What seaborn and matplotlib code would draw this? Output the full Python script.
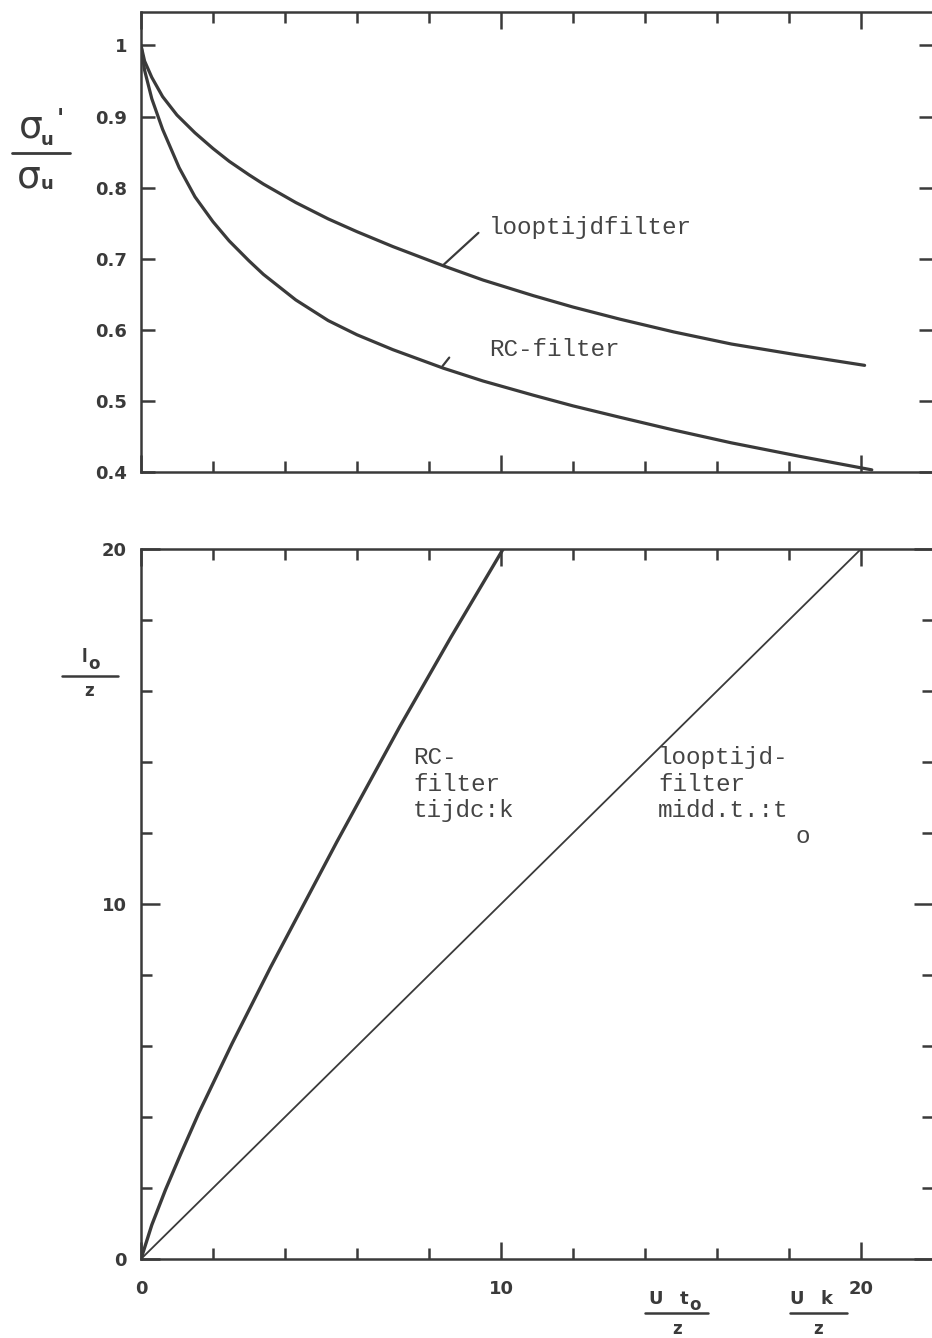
import numpy as np
import pandas as pd
import matplotlib
matplotlib.use("Agg")
import matplotlib.pyplot as plt
from matplotlib.lines import Line2D
from matplotlib.ticker import FixedLocator, FixedFormatter
import seaborn as sns

# ---------------- data ----------------
# top panel: sigma_u' / sigma_u versus U t0/z (looptijdfilter) and U k/z (RC-filter)
loop_x = [0, 0.1, 0.3, 0.6, 1.0, 1.5, 2.0, 2.45, 3.0, 3.4, 4.3, 5.2, 6.0, 7.0,
          8.4, 9.5, 10.9, 12.0, 13.3, 14.8, 16.4, 18.2, 20.1]
loop_y = [1.0, 0.978, 0.955, 0.928, 0.902, 0.877, 0.855, 0.837, 0.818, 0.805,
          0.779, 0.756, 0.738, 0.717, 0.69, 0.670, 0.648, 0.632, 0.615, 0.597,
          0.58, 0.565, 0.55]
rc_x = [0, 0.1, 0.3, 0.6, 1.06, 1.5, 2.0, 2.45, 3.0, 3.4, 4.3, 5.2, 6.0, 7.0,
        8.4, 9.5, 10.9, 12.0, 13.3, 14.8, 16.4, 18.3, 20.3]
rc_y = [1.0, 0.965, 0.925, 0.882, 0.828, 0.787, 0.752, 0.725, 0.697, 0.678,
        0.642, 0.613, 0.593, 0.572, 0.546, 0.528, 0.508, 0.493, 0.477, 0.459,
        0.441, 0.422, 0.403]

# bottom panel: l0/z versus U k/z (RC-filter) and U t0/z (looptijdfilter)
rcb_x = [0, 0.3, 0.68, 1.1, 1.6, 2.53, 3.6, 5.44, 7.19, 8.6, 10.06]
rcb_y = [0, 0.96, 1.95, 2.95, 4.1, 6.07, 8.22, 11.75, 15.0, 17.5, 20.0]
loopb_x = [0, 20]
loopb_y = [0, 20]

top_yticks = [0.4, 0.5, 0.6, 0.7, 0.8, 0.9, 1.0]
top_ylabels = ["0.4", "0.5", "0.6", "0.7", "0.8", "0.9", "1"]
bot_major = [0, 10, 20]
bot_major_labels = ["0", "10", "20"]
minor_ticks = [2, 4, 6, 8, 12, 14, 16, 18]

# ---------------- style ----------------
sns.set_theme(style="white")
plt.rcParams["font.family"] = ["DejaVu Sans"]
plt.rcParams["mathtext.fontset"] = "dejavusans"
ink = "#3a3a3a"
mono = "Liberation Mono"

W, H = 932, 1338
fig = plt.figure(figsize=(W / 100, H / 100), dpi=100)
fig.patch.set_facecolor("white")

x0 = 141.0
ppu = 36.0
ax1 = fig.add_axes([x0 / W, 1 - 472 / H, 22 * ppu / W, (472 - 12) / H])
ax2 = fig.add_axes([x0 / W, 1 - 1259 / H, 22 * ppu / W, (1259 - 549) / H])

# ---------------- top panel ----------------
df_top = pd.concat([
    pd.DataFrame({"x": loop_x, "y": loop_y, "filter": "looptijdfilter"}),
    pd.DataFrame({"x": rc_x, "y": rc_y, "filter": "RC-filter"}),
])
sns.lineplot(data=df_top, x="x", y="y", hue="filter", palette=[ink, ink],
             linewidth=2.3, legend=False, ax=ax1, estimator=None, sort=False)
ax1.set_xlim(0, 22)
ax1.set_ylim(0.4, 1.047)

# ---------------- bottom panel ----------------
sns.lineplot(x=rcb_x, y=rcb_y, color=ink, linewidth=2.4, ax=ax2,
             estimator=None, sort=False)
sns.lineplot(x=loopb_x, y=loopb_y, color=ink, linewidth=1.3, ax=ax2,
             estimator=None, sort=False)
ax2.set_xlim(0, 22)
ax2.set_ylim(0, 20)

for ax in (ax1, ax2):
    for s in ax.spines.values():
        s.set_visible(True)
        s.set_linewidth(1.8)
        s.set_color(ink)
    ax.set_xlabel("")
    ax.set_ylabel("")
    ax.set_facecolor("white")
    ax.grid(False)
    ax.tick_params(which="both", direction="in", top=True, right=True,
                   bottom=True, left=True, color=ink, width=1.8)
    ax.tick_params(which="major", length=12, pad=10)
    ax.tick_params(which="minor", length=8)

# x ticks
for ax in (ax1, ax2):
    ax.xaxis.set_major_locator(FixedLocator(bot_major))
    ax.xaxis.set_minor_locator(FixedLocator(minor_ticks))
ax1.set_xticklabels([])
ax2.xaxis.set_major_formatter(FixedFormatter(bot_major_labels))
ax2.tick_params(axis="x", which="major", pad=15)

# y ticks
ax1.yaxis.set_major_locator(FixedLocator(top_yticks))
ax1.yaxis.set_major_formatter(FixedFormatter(top_ylabels))
ax1.tick_params(axis="y", which="major", length=10)
ax2.yaxis.set_major_locator(FixedLocator(bot_major))
ax2.yaxis.set_minor_locator(FixedLocator(minor_ticks))
ax2.yaxis.set_major_formatter(FixedFormatter(bot_major_labels))
ax2.tick_params(axis="y", which="major", length=14)

for ax in (ax1, ax2):
    for lab in ax.get_xticklabels() + ax.get_yticklabels():
        lab.set_fontsize(13)
        lab.set_fontweight("bold")
        lab.set_color(ink)

# ---------------- annotations ----------------
txt = dict(family=mono, fontsize=17.5, color="#444444")
ax1.text(9.67, 0.744, "looptijdfilter", ha="left", va="center", **txt)
ax1.annotate("", xy=(8.33, 0.688), xytext=(9.43, 0.739),
             arrowprops=dict(arrowstyle="-", color=ink, lw=1.6))
ax1.text(9.67, 0.573, "RC-filter", ha="left", va="center", **txt)
ax1.annotate("", xy=(8.33, 0.546), xytext=(8.61, 0.564),
             arrowprops=dict(arrowstyle="-", color=ink, lw=1.6))

ax2.text(7.56, 14.45, "RC-\nfilter\ntijdc:k", ha="left", va="top",
         linespacing=1.2, **txt)
ax2.text(14.36, 14.45, "looptijd-\nfilter\nmidd.t.:t", ha="left", va="top",
         linespacing=1.2, **txt)
ax2.text(18.39, 11.89, "o", ha="center", va="center", **txt)

# ---------------- axis labels (hand-set fractions) ----------------
def ftext(px, py, s, size, weight="bold"):
    fig.text(px / W, 1 - py / H, s, ha="center", va="center",
             fontsize=size, fontweight=weight, color=ink)

def fbar(xa, xb, py, lw=2.0):
    fig.add_artist(Line2D([xa / W, xb / W], [1 - py / H, 1 - py / H],
                          transform=fig.transFigure, color=ink, lw=lw))

# sigma_u' / sigma_u
ftext(31, 127, "σ", 27, "normal")
ftext(47, 140, "u", 13)
ftext(60, 119, "'", 17, "bold")
fbar(12, 70, 153)
ftext(29, 177, "σ", 27, "normal")
ftext(47, 184, "u", 13)

# l_o / z
ftext(84, 657, "l", 12)
ftext(94, 664, "o", 12)
fbar(62, 118, 676, 1.8)
ftext(89, 691, "z", 12)

# U t_o / z
ftext(656, 1299, "U", 13)
ftext(684, 1299, "t", 13)
ftext(695, 1305, "o", 12)
fbar(645, 708, 1313, 1.8)
ftext(677, 1329, "z", 12)

# U k / z
ftext(797, 1299, "U", 13)
ftext(826, 1299, "k", 13)
fbar(790, 847, 1313, 1.8)
ftext(818, 1329, "z", 12)

fig.savefig("out.png", dpi=100, facecolor="white")
